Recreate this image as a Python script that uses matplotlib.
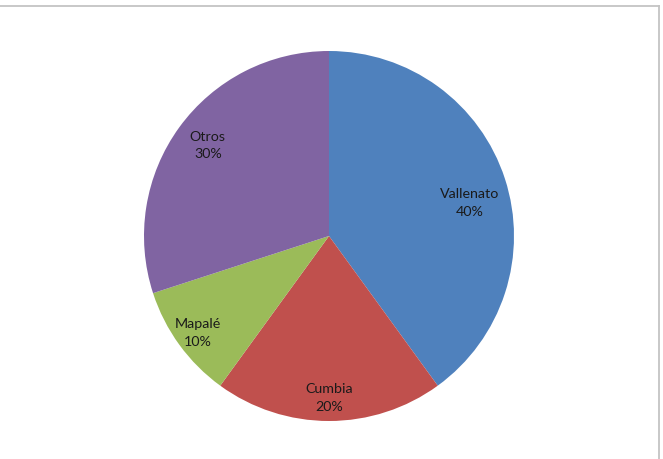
import matplotlib
matplotlib.use("Agg")
import matplotlib.pyplot as plt
from matplotlib.lines import Line2D
import numpy as np

categories = ["Vallenato", "Cumbia", "Mapalé", "Otros"]
values = [40, 20, 10, 30]
colors = ["#4F81BD", "#C0504D", "#9BBB59", "#8064A2"]
# label placement (angle deg, radius fraction) as in the reference
label_pos = [(13.6, 0.78), (-90, 0.87), (-143.8, 0.88), (143, 0.82)]

W, H = 663, 460
fig = plt.figure(figsize=(W / 100, H / 100), dpi=100)
cx, cy, r = 329, 237, 185
ax = fig.add_axes([(cx - r) / W, (H - cy - r) / H, 2 * r / W, 2 * r / H])
ax.pie(values, colors=colors, startangle=90, counterclock=False, radius=1,
       wedgeprops=dict(linewidth=0))
ax.set_xlim(-1, 1)
ax.set_ylim(-1, 1)
ax.set_aspect("auto")
ax.axis("off")

total = sum(values)
for cat, v, (ang, rf) in zip(categories, values, label_pos):
    a = np.deg2rad(ang)
    ax.text(rf * np.cos(a), rf * np.sin(a), f"{cat}\n{round(100 * v / total)}%",
            ha="center", va="center", fontsize=10.3, family=["Lato", "DejaVu Sans"],
            color="#1a1a1a", linespacing=1.55)

# outer chart frame (partially visible)
border = "#c4c4c4"
top = 1 - 6.5 / H
right = 658.5 / W
fig.add_artist(Line2D([0, right], [top, top], color=border, lw=1.3, transform=fig.transFigure))
fig.add_artist(Line2D([right, right], [0, top], color=border, lw=1.3, transform=fig.transFigure))

fig.savefig("out.png", dpi=100)
